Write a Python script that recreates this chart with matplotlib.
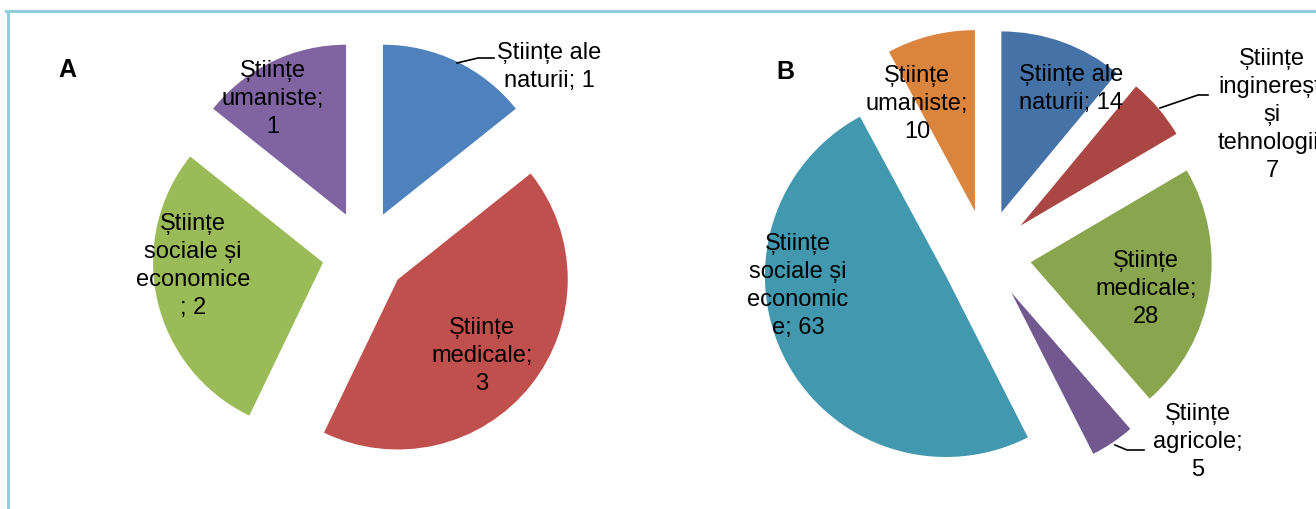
import matplotlib.pyplot as plt
from matplotlib.lines import Line2D

W, H = 1316, 509

# ---------------- data ----------------
labels_a = ["Științe ale\nnaturii; 1", "Științe\nmedicale;\n3",
            "Științe\nsociale și\neconomice\n; 2", "Științe\numaniste;\n1"]
values_a = [1, 3, 2, 1]
colors_a = ["#4F81BD", "#C0504D", "#9BBB59", "#8064A2"]

labels_b = ["Științe ale\nnaturii; 14", "Științe\ninginerești\nși\ntehnologii;\n7",
            "Științe\nmedicale;\n28", "Științe\nagricole;\n5",
            "Științe\nsociale și\neconomic\ne; 63", "Științe\numaniste;\n10"]
values_b = [14, 7, 28, 5, 63, 10]
colors_b = ["#4572A7", "#AA4643", "#89A54E", "#71588F", "#4198AF", "#DB843D"]

# label centres in pixels (x, y from top)
label_pos_a = [(549, 67), (482, 356), (193, 266), (273, 99)]
label_pos_b = [(1071, 89), (1272, 115), (1146, 289), (1198, 442), (798, 286), (917, 104)]

plt.rcParams['font.family'] = ['Liberation Sans', 'DejaVu Sans']


def fig_xy(x, y):
    return x / W, 1 - y / H


def draw_pie(fig, box, centre, radius, values, colors):
    # box = (x0, x1) in pixels, full height
    x0, x1 = box
    ax = fig.add_axes([x0 / W, 0, (x1 - x0) / W, 1])
    ax.pie(values, colors=colors, startangle=90, counterclock=False,
           explode=[0.25] * len(values), radius=1,
           wedgeprops=dict(linewidth=0))
    cx, cy = centre
    ax.set_xlim((x0 - cx) / radius, (x1 - cx) / radius)
    ax.set_ylim((cy - H) / radius, cy / radius)
    ax.set_aspect('auto')
    ax.axis('off')
    return ax


fig = plt.figure(figsize=(W / 100, H / 100), dpi=100)

draw_pie(fig, (0, 660), (364.5, 253), 170, values_a, colors_a)
draw_pie(fig, (660, W), (986, 255), 181, values_b, colors_b)

for txt, (x, y) in zip(labels_a + labels_b, label_pos_a + label_pos_b):
    fig.text(*fig_xy(x, y), txt, ha='center', va='center', fontsize=17,
             linespacing=1.36, multialignment='center')

fig.text(*fig_xy(67, 70), "A", ha='center', va='center', fontsize=18, fontweight='bold')
fig.text(*fig_xy(785, 72), "B", ha='center', va='center', fontsize=18, fontweight='bold')

# leader lines
leaders = [
    [(457, 63), (478, 58), (494, 58)],
    [(1160, 108), (1198, 95), (1208, 95)],
    [(1115, 445), (1127, 450), (1144, 450)],
]
for pts in leaders:
    xs = [fig_xy(x, y)[0] for x, y in pts]
    ys = [fig_xy(x, y)[1] for x, y in pts]
    fig.add_artist(Line2D(xs, ys, color='black', linewidth=1.2))

# frame (light blue border, top and left visible)
fig.add_artist(Line2D([7.5 / W, 7.5 / W], [0, 1 - 10.5 / H], color='#92CDDC', linewidth=2.2))
fig.add_artist(Line2D([6 / W, 1], [1 - 10.5 / H, 1 - 10.5 / H], color='#92CDDC', linewidth=2.2))

fig.savefig("out.png", dpi=100, facecolor='white')
